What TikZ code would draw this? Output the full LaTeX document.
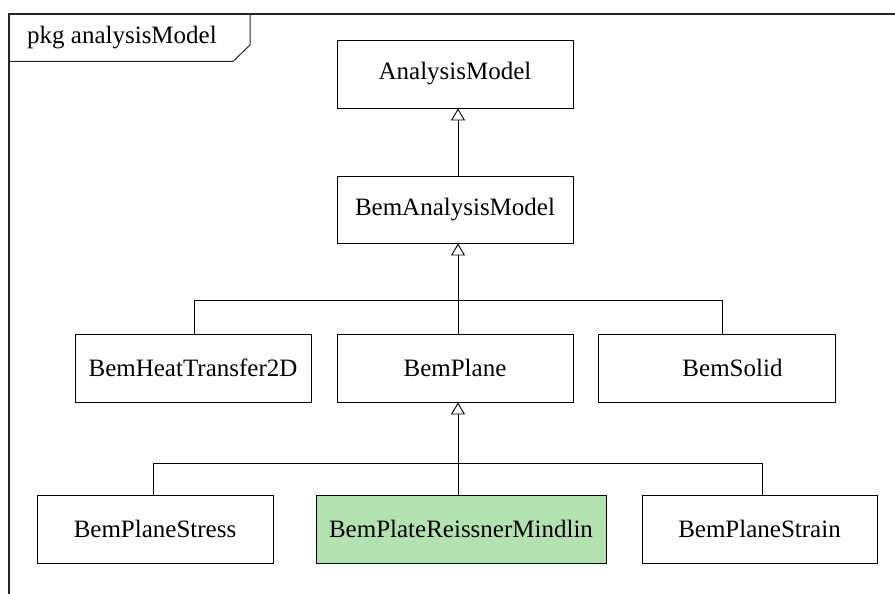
\documentclass[tikz,border=0pt]{standalone}
\usepackage{fontspec}
\setmainfont{Liberation Serif}
\usetikzlibrary{arrows.meta}
\definecolor{plategreen}{RGB}{179,226,177}
\begin{document}
\begin{tikzpicture}[x=1pt,y=-1pt,
  cls/.style={draw=black, line width=0.9pt, fill=white, minimum height=68pt, inner sep=0pt,
    font=\fontsize{25}{30}\selectfont},
  link/.style={line width=0.9pt, draw=black},
  gen/.style={link, -{Triangle[open,length=12pt,width=14pt]}},
  frameline/.style={line width=1.3pt, draw=black!85}]
\useasboundingbox (0,0) rectangle (895,594);
% package frame
\draw[frameline] (9,600) -- (9,14) -- (900,14);
\draw[frameline, line width=1pt] (9,61.5) -- (233,61.5) -- (250,45) -- (250,14);
\node[anchor=west, inner sep=0pt, font=\fontsize{25}{30}\selectfont] (pkg) at (27,38) {pkg analysisModel};
% classes
\node[cls, minimum width=236pt] (am) at (455,74) {AnalysisModel};
\node[cls, minimum width=236pt, minimum height=67pt] (bam) at (455,209.5) {BemAnalysisModel};
\node[cls, minimum width=236pt] (heat) at (193,368) {BemHeatTransfer2D};
\node[cls, minimum width=236pt] (plane) at (455,368) {BemPlane};
\node[cls, minimum width=237pt] (solid) at (716.5,368) {\hspace*{32pt}BemSolid};
\node[cls, minimum width=236pt] (stress) at (155,529) {BemPlaneStress};
\node[cls, minimum width=290pt, fill=plategreen] (plate) at (461,529) {BemPlateReissnerMindlin};
\node[cls, minimum width=235pt] (strain) at (759.5,529) {BemPlaneStrain};
% connector positions
\coordinate (xa) at (458,0);
\coordinate (b1) at (458,300.7);
\coordinate (b2) at (458,463.5);
\coordinate (hN) at ([xshift=1pt]heat.north);
\coordinate (sN) at ([xshift=5.5pt]solid.north);
\coordinate (psN) at ([xshift=-2pt]stress.north);
\coordinate (pnN) at ([xshift=2.5pt]strain.north);
% generalisations
\draw[gen] (bam.north -| xa) -- (am.south -| xa);
\draw[gen] (plane.north -| xa) -- (bam.south -| xa);
\draw[link] (hN) -- (hN |- b1) -- (sN |- b1) -- (sN);
\draw[gen] (plate.north -| xa) -- (plane.south -| xa);
\draw[link] (psN) -- (psN |- b2) -- (pnN |- b2) -- (pnN);
\end{tikzpicture}
\end{document}
